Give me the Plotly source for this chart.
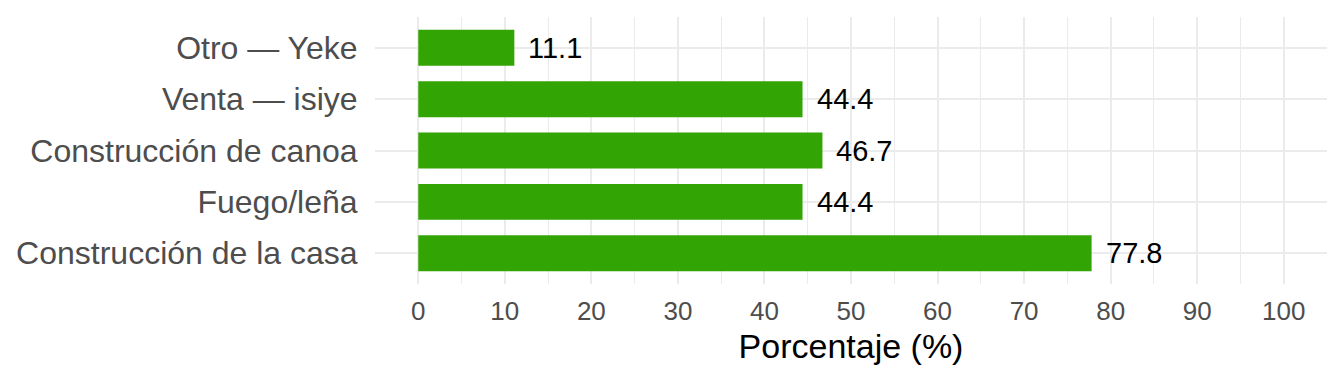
import plotly.graph_objects as go

categories = ["Construcción de la casa", "Fuego/leña", "Construcción de canoa", "Venta — isiye", "Otro — Yeke"]
values = [77.8, 44.4, 46.7, 44.4, 11.1]
labels = ["77.8", "44.4", "46.7", "44.4", "11.1"]
x_ticks = list(range(0, 101, 10))

FONT = "Liberation Sans, Arial, sans-serif"
GREEN = "#32A505"
GRID = "#EBEBEB"

fig = go.Figure()
fig.add_trace(go.Bar(
    x=values, y=categories, orientation="h",
    marker=dict(color=GREEN, line=dict(width=0)),
    width=0.7, hoverinfo="skip",
))
for c, v, t in zip(categories, values, labels):
    fig.add_annotation(x=v, y=c, text=t, xanchor="left", yanchor="middle",
                       xshift=12, showarrow=False,
                       font=dict(family=FONT, size=29, color="black"))

fig.update_layout(
    width=1344, height=384,
    margin=dict(l=375, r=17, t=17, b=100),
    paper_bgcolor="white", plot_bgcolor="white",
    showlegend=False,
    font=dict(family=FONT),
)
fig.update_xaxes(
    range=[-5, 105], tickvals=x_ticks, ticktext=[str(v) for v in x_ticks],
    showgrid=True, gridcolor=GRID, gridwidth=2,
    zeroline=False, showline=False,
    ticks="outside", ticklen=4, tickcolor="rgba(0,0,0,0)",
    tickfont=dict(family=FONT, size=26, color="#4D4D4D"),
    minor=dict(dtick=5, tick0=0, showgrid=True, gridcolor=GRID, gridwidth=1),
    title=dict(text="Porcentaje (%)", font=dict(family=FONT, size=34, color="black"), standoff=8),
)
fig.update_yaxes(
    categoryorder="array", categoryarray=categories,
    range=[-0.6, 4.6],
    showgrid=True, gridcolor=GRID, gridwidth=2,
    zeroline=False, showline=False,
    ticks="outside", ticklen=10, tickcolor="rgba(0,0,0,0)",
    tickfont=dict(family=FONT, size=32, color="#4D4D4D"),
)
fig.write_html("out.html")
